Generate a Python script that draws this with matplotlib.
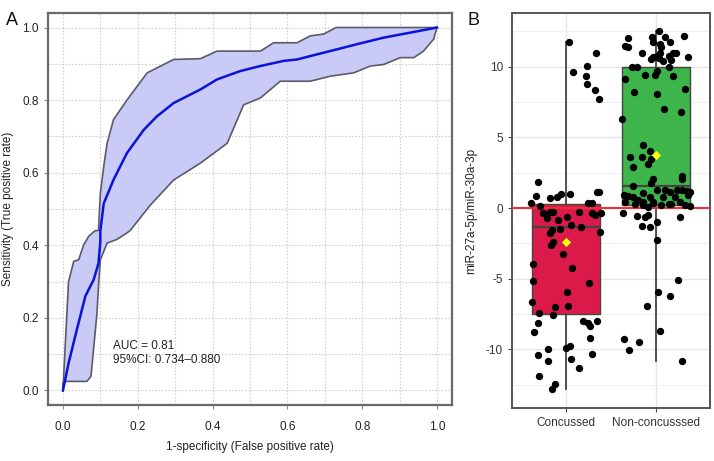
import matplotlib
matplotlib.use("Agg")
import matplotlib.pyplot as plt
import numpy as np

# ---------------- Panel A data (ROC) ----------------
roc_fpr = [0, 0.015, 0.037, 0.06, 0.082, 0.095, 0.1, 0.1, 0.109, 0.135, 0.171, 0.216, 0.251,
           0.296, 0.367, 0.412, 0.474, 0.528, 0.59, 0.626, 0.679, 0.733, 0.786, 0.857, 0.929, 1.0]
roc_tpr = [0, 0.075, 0.167, 0.26, 0.305, 0.35, 0.41, 0.44, 0.515, 0.58, 0.654, 0.718, 0.755,
           0.792, 0.829, 0.857, 0.88, 0.894, 0.908, 0.912, 0.926, 0.94, 0.954, 0.972, 0.986, 1.0]

ci_upper_fpr = [0, 0.006, 0.015, 0.029, 0.042, 0.055, 0.069, 0.086, 0.095, 0.1, 0.109, 0.118,
                0.135, 0.171, 0.225, 0.296, 0.367, 0.412, 0.528, 0.563, 0.626, 0.661, 0.697, 0.73, 1.0]
ci_upper_tpr = [0, 0.121, 0.30, 0.356, 0.36, 0.40, 0.425, 0.44, 0.441, 0.543, 0.617, 0.681,
                0.746, 0.80, 0.875, 0.912, 0.914, 0.935, 0.935, 0.958, 0.958, 0.977, 0.982, 1.0, 1.0]

ci_lower_fpr = [0, 0, 0.004, 0.064, 0.075, 0.091, 0.095, 0.1, 0.118, 0.144, 0.171, 0.18, 0.233,
                0.296, 0.367, 0.439, 0.483, 0.528, 0.581, 0.661, 0.715, 0.777, 0.822, 0.857,
                0.902, 0.938, 0.964, 0.991, 1.0]
ci_lower_tpr = [0, 0.02, 0.025, 0.025, 0.039, 0.213, 0.287, 0.36, 0.406, 0.416, 0.434, 0.441, 0.51,
                0.58, 0.626, 0.681, 0.787, 0.806, 0.852, 0.852, 0.866, 0.875, 0.894, 0.898,
                0.917, 0.917, 0.935, 0.968, 1.0]

auc_text = "AUC = 0.81\n95%CI: 0.734\u20130.880"

# ---------------- Panel B data (box + jitter) ----------------
groups = ["Concussed", "Non-concusssed"]
box_q1 = [-7.49, 0.21]
box_median = [-1.32, 1.57]
box_q3 = [0.28, 9.95]
whisker_low = [-12.82, -10.82]
whisker_high = [11.78, 12.54]
group_means = [-2.42, 3.73]

concussed_y = [11.78, 10.96, 9.6, 10.02, 9.33, 8.78, 8.38, 7.7,
               1.85, 0.85, 0.33, 0.68, 0.8, 0.99, 0.99, 1.15, 1.15, 0.37, 0.37, 0.14,
               -0.37, -0.26, -0.26, -0.73, -0.85, -0.66, -0.26, -0.37, -0.49, -0.37,
               -1.2, -1.32, -1.55, -1.5, -1.78, -2.37, -2.6, -1.73, -3.24,
               -3.94, -4.25, -5.19, -5.31, -5.96, -6.67, -6.95, -7.02, -7.42, -7.6,
               -8.17, -7.96, -8.17, -8.36, -8.03, -8.75, -9.2,
               -9.95, -9.88, -9.77, -10.42, -10.35, -10.82, -10.7, -11.34, -11.88, -12.46, -12.82]
concussed_dx = [0.03, 0.33, 0.08, 0.23, 0.22, 0.23, 0.32, 0.37,
                -0.31, -0.33, -0.39, -0.18, -0.10, -0.05, 0.04, 0.34, 0.37, 0.25, 0.29, -0.29,
                -0.25, -0.18, -0.14, -0.21, -0.09, 0.01, 0.14, 0.29, 0.32, 0.39,
                0.06, 0.17, -0.16, -0.07, -0.18, -0.14, -0.17, 0.38, -0.03,
                -0.37, 0.07, -0.37, 0.26, 0.01, -0.38, 0.02, -0.12, -0.30, -0.14,
                -0.31, 0.19, 0.25, 0.27, 0.35, -0.36, 0.27,
                -0.20, 0.0, 0.05, -0.31, 0.29, -0.20, 0.06, 0.14, -0.30, -0.12, -0.15]

noncon_y = [12.54, 12.03, 12.07, 12.07, 12.18, 11.48, 11.41, 11.78, 11.6, 11.72, 11.0, 11.38,
            11.0, 10.95, 10.95, 10.7, 10.77, 10.77, 10.47, 10.7, 10.54, 10.6, 10.42,
            9.95, 9.95, 9.95, 9.72, 9.13, 9.44, 9.4, 9.37, 8.2, 8.08, 8.43,
            6.32, 7.02, 6.78, 4.48, 4.01, 3.62, 3.62, 3.5, 3.1, 2.91, 2.04, 2.25, 2.04,
            1.78, 1.55, 1.08, 0.92, 0.85, 0.8, 0.8, 1.27, 1.27, 1.15, 1.31, 1.27, 1.22, 1.15,
            0.8, 0.8, 0.92, 0.45, 0.56, 0.45, 0.45, 0.45, 0.28, 0.21, 0.1, 0.33, 0.21, 0.26,
            0.26, 0.21, 0.14, -0.37, -0.56, -0.61, -0.49, -0.61, -0.96, -1.27, -1.36,
            -2.25, -5.07, -5.94, -6.2, -6.95, -8.71, -9.25, -9.48, -10.07, -10.82]
noncon_dx = [0.03, -0.31, -0.04, 0.10, 0.31, -0.34, -0.31, -0.03, 0.04, 0.16, -0.15, 0.06,
             0.04, 0.19, 0.22, -0.03, 0.01, 0.15, 0.17, 0.36, -0.05, 0.03, 0.08,
             -0.27, -0.21, 0.14, 0.01, -0.34, -0.12, -0.01, 0.19, -0.24, 0.01, 0.32,
             -0.38, 0.09, 0.28, -0.14, -0.07, -0.29, -0.16, -0.05, -0.09, -0.26, -0.03, 0.29, 0.29,
             -0.05, -0.25, -0.14, -0.36, -0.31, -0.25, -0.07, 0.01, 0.10, 0.16, 0.23, 0.29, 0.34, 0.38,
             0.08, 0.21, 0.36, -0.34, -0.20, -0.14, -0.03, 0.27, -0.23, -0.14, -0.09, -0.03, 0.06, 0.14,
             0.17, 0.32, 0.38, -0.37, -0.21, -0.12, -0.09, 0.27, 0.01, -0.16, -0.07,
             0.01, 0.25, 0.02, 0.16, -0.10, 0.04, -0.36, -0.19, -0.30, 0.29]

box_colors = ["#DC1A4A", "#3DB54A"]

# ---------------- Figure ----------------
fig = plt.figure(figsize=(7.14, 4.61), dpi=100)
plt.rcParams['font.family'] = ['Liberation Sans', 'DejaVu Sans']

axA = fig.add_axes([0.0672, 0.1215, 0.5658, 0.8503])
axA.fill(np.concatenate([ci_upper_fpr, ci_lower_fpr[::-1]]),
         np.concatenate([ci_upper_tpr, ci_lower_tpr[::-1]]),
         color="#CACAF6", zorder=1, lw=0)
axA.plot(ci_upper_fpr, ci_upper_tpr, color="#5a5a6a", lw=1.2, zorder=2)
axA.plot(ci_lower_fpr, ci_lower_tpr, color="#5a5a6a", lw=1.2, zorder=2)
axA.plot(roc_fpr, roc_tpr, color="#0A14D8", lw=1.8, zorder=3)
axA.set_xlim(-0.04, 1.04)
axA.set_ylim(-0.04, 1.04)
ticks = np.arange(0, 1.01, 0.2)
axA.set_xticks(ticks)
axA.set_yticks(ticks)
axA.set_xticklabels([f"{t:.1f}" for t in ticks])
axA.set_yticklabels([f"{t:.1f}" for t in ticks])
axA.set_xticks(np.arange(0.1, 1.0, 0.2), minor=True)
axA.set_yticks(np.arange(0.1, 1.0, 0.2), minor=True)
axA.tick_params(which="minor", length=0)
axA.tick_params(which="major", length=3, color="#888888", labelsize=8.5, labelcolor="#222222")
axA.tick_params(axis="x", which="major", pad=8.5)
axA.grid(True, which="both", linestyle=(0, (1.5, 1.5)), color="#D0D0D0", lw=0.8)
axA.set_axisbelow(True)
for s in axA.spines.values():
    s.set_color("#6a6a6a")
    s.set_linewidth(1.6)
axA.set_xlabel("1-specificity (False positive rate)", fontsize=8.5, color="#222222", labelpad=6)
axA.set_ylabel("Sensitivity (True positive rate)", fontsize=8.5, color="#222222", labelpad=6)
axA.text(0.135, 0.103, auc_text, fontsize=8.5, va="center", ha="left", color="#222222",
         linespacing=1.2)
fig.text(0.008, 0.945, "A", fontsize=13, color="#111111")

# Panel B
axB = fig.add_axes([0.717, 0.115, 0.2774, 0.8568])
positions = [1, 2]
stats = []
for i in range(2):
    stats.append(dict(med=box_median[i], q1=box_q1[i], q3=box_q3[i],
                      whislo=whisker_low[i], whishi=whisker_high[i], fliers=[]))
bp = axB.bxp(stats, positions=positions, widths=0.76, patch_artist=True,
             showcaps=False, showfliers=False,
             whiskerprops=dict(color="#444444", lw=1.3),
             medianprops=dict(color="#444444", lw=1.6),
             boxprops=dict(edgecolor="#444444", lw=1.0))
for patch, c in zip(bp["boxes"], box_colors):
    patch.set_facecolor(c)
    patch.set_zorder(2)
for k in ("whiskers", "medians"):
    for l in bp[k]:
        l.set_zorder(2.5)

axB.axhline(0, color="#EE3030", lw=1.5, zorder=3)
axB.scatter(1 + np.array(concussed_dx), concussed_y, s=28, color="black", zorder=4, lw=0)
axB.scatter(2 + np.array(noncon_dx), noncon_y, s=28, color="black", zorder=4, lw=0)
axB.scatter(positions, group_means, marker="D", s=22, color="#FFFF10", zorder=5, lw=0)

axB.set_xlim(0.4, 2.6)
axB.set_ylim(-14.15, 13.8)
axB.set_xticks(positions)
axB.set_xticklabels(groups)
axB.set_yticks([-10, -5, 0, 5, 10])
axB.set_yticklabels(["-10", "-5", "0", "5", "10"])
axB.set_yticks([-12.5, -7.5, -2.5, 2.5, 7.5, 12.5], minor=True)
axB.tick_params(which="minor", length=0)
axB.tick_params(which="major", length=3, color="#444444", labelsize=8.5, labelcolor="#333333")
axB.grid(True, which="major", color="#E6E6E6", lw=1.0)
axB.grid(True, which="minor", axis="y", color="#F0F0F0", lw=0.8)
axB.set_axisbelow(True)
for s in axB.spines.values():
    s.set_color("#555555")
    s.set_linewidth(1.4)
axB.set_ylabel("miR-27a-5p/miR-30a-3p", fontsize=8.5, color="#222222", labelpad=6)
fig.text(0.655, 0.945, "B", fontsize=13, color="#111111")

fig.savefig("out.png", dpi=100)
